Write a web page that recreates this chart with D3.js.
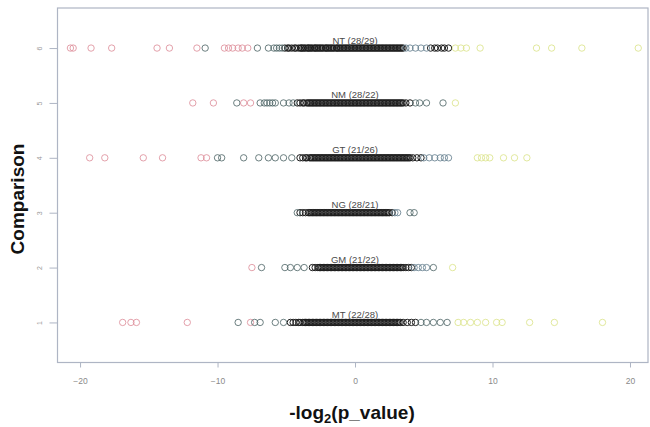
<!DOCTYPE html>
<html>
<head>
<meta charset="utf-8">
<script src="https://cdn.jsdelivr.net/npm/d3@7"></script>
<style>
  html, body { margin: 0; padding: 0; background: #fff; }
  svg { display: block; }
</style>
</head>
<body>
<svg id="chart" width="650" height="427"></svg>
<script>
// Comparisons, bottom (1) to top (6), with their row labels
const comparisons = ["MT", "GM", "NG", "GT", "NM", "NT"];
const rowLabels = ["MT (22/28)", "GM (21/22)", "NG (28/21)", "GT (21/26)", "NM (28/22)", "NT (28/29)"];
const xTicks = [-20, -10, 0, 10, 20];
const yTicks = [1, 2, 3, 4, 5, 6];

// -log2(p_value) per comparison; tone codes: r = strongly negative, s = outer, b = upper shoulder, y = strongly positive
const ntTails = [[-20.7,"r"],[-20.5,"r"],[-19.2,"r"],[-17.7,"r"],[-14.4,"r"],[-13.5,"r"],[-11.5,"r"],[-10.9,"s"],
  [-9.5,"r"],[-9.2,"r"],[-8.9,"r"],[-8.5,"r"],[-8.2,"r"],[-7.8,"r"],[-7.1,"s"],[-6.3,"s"],[-5.9,"s"],[-5.7,"s"],[-5.5,"s"],[-5.3,"s"],
  [3.7,"b"],[4.0,"b"],[4.4,"b"],[4.8,"b"],[5.2,"b"],
  [7.3,"y"],[7.7,"y"],[8.1,"y"],[9.1,"y"],[13.2,"y"],[14.3,"y"],[16.5,"y"],[20.6,"y"]];
const ntCore = [-5.1,-4.9,-4.8,-4.6,-4.4,-4.3,-4.1,-3.9,-3.8,-3.6,-3.4,-3.3,-3.1,-2.9,-2.8,-2.6,-2.5,-2.3,-2.1,-2.0,
  -1.8,-1.7,-1.5,-1.3,-1.2,-1.0,-0.9,-0.7,-0.6,-0.4,-0.2,-0.1,0.1,0.2,0.4,0.5,0.7,0.9,1.0,1.2,1.3,1.5,1.7,1.8,2.0,
  2.2,2.3,2.5,2.7,2.8,3.0,3.2,3.4,3.5,5.5,5.8,6.0,6.3,6.5,6.8,
  -3.95,-3.7,-3.45,-3.2,-2.95,-2.7,-2.4,-2.15,-1.9,-1.6,-1.35,-1.1,-0.8,-0.5,-0.3,0.0,0.3,0.6,0.8,1.1,1.4,1.6,
  1.9,2.1,2.4,2.6,2.9,3.1,3.3];

const nmTails = [[-11.8,"r"],[-10.3,"r"],[-8.6,"s"],[-8.1,"r"],[-7.6,"r"],[-6.9,"s"],[-6.6,"s"],[-6.4,"s"],[-6.2,"s"],
  [-6.0,"s"],[-5.8,"s"],[-5.2,"s"],[-4.8,"s"],[-4.5,"s"],[4.4,"s"],[4.7,"s"],[5.2,"s"],[6.4,"s"],[7.3,"y"]];
const nmCore = [-4.2,-4.0,-3.8,-3.7,-3.5,-3.3,-3.2,-3.0,-2.8,-2.7,-2.5,-2.3,-2.2,-2.0,-1.9,-1.7,-1.5,-1.4,-1.2,-1.1,
  -0.9,-0.7,-0.6,-0.4,-0.3,-0.1,0.1,0.2,0.4,0.5,0.7,0.9,1.0,1.2,1.3,1.5,1.7,1.8,2.0,2.2,2.3,2.5,2.7,2.9,3.1,3.3,3.5,3.7,4.0,
  -3.4,-3.1,-2.9,-2.6,-2.4,-2.1,-1.8,-1.6,-1.3,-1.0,-0.8,-0.5,-0.2,0.0,0.3,0.6,0.8,1.1,1.4,1.6,1.9,2.1,2.4,2.6,
  2.8,3.0,3.2,3.4];

const gtTails = [[-19.3,"r"],[-18.2,"r"],[-15.4,"r"],[-14.0,"r"],[-11.2,"r"],[-10.8,"r"],[-10.0,"s"],[-9.7,"s"],
  [-8.1,"s"],[-7.0,"s"],[-6.3,"s"],[-5.8,"s"],[-5.2,"s"],[-4.6,"s"],
  [5.0,"b"],[5.4,"b"],[5.8,"b"],[6.2,"b"],[6.5,"b"],[6.8,"b"],
  [8.9,"y"],[9.2,"y"],[9.5,"y"],[9.8,"y"],[10.8,"y"],[11.6,"y"],[12.5,"y"]];
const gtCore = [-4.0,-3.8,-3.6,-3.5,-3.3,-3.1,-3.0,-2.8,-2.6,-2.5,-2.3,-2.1,-2.0,-1.8,-1.7,-1.5,-1.3,-1.2,-1.0,-0.9,
  -0.7,-0.5,-0.4,-0.2,-0.1,0.1,0.3,0.4,0.6,0.7,0.9,1.1,1.2,1.4,1.5,1.7,1.9,2.0,2.2,2.4,2.5,2.7,2.9,3.0,3.2,3.4,3.6,
  3.8,4.0,4.2,4.5,4.8,
  -3.2,-2.9,-2.7,-2.4,-2.2,-1.9,-1.6,-1.4,-1.1,-0.8,-0.6,-0.3,0.0,0.2,0.5,0.8,1.0,1.3,1.6,1.8,2.1,2.3,2.6,2.8,
  3.1,3.3,3.5,3.7,3.9];

const ngTails = [[-4.2,"s"],[2.9,"b"],[3.1,"b"],[4.0,"s"],[4.3,"s"]];
const ngCore = [-4.0,-3.8,-3.6,-3.4,-3.3,-3.1,-2.9,-2.8,-2.6,-2.4,-2.3,-2.1,-1.9,-1.8,-1.6,-1.5,-1.3,-1.1,-1.0,-0.8,
  -0.7,-0.5,-0.3,-0.2,0.0,0.1,0.3,0.5,0.6,0.8,0.9,1.1,1.3,1.4,1.6,1.8,1.9,2.1,2.3,2.5,2.7,
  -3.2,-3.0,-2.7,-2.5,-2.2,-2.0,-1.7,-1.4,-1.2,-0.9,-0.6,-0.4,-0.1,0.2,0.4,0.7,1.0,1.2,1.5,1.7,2.0,2.2,2.4];

const gmTails = [[-7.5,"r"],[-6.8,"s"],[-5.1,"s"],[-4.7,"s"],[-4.2,"s"],[-3.7,"s"],
  [4.3,"b"],[4.6,"b"],[4.9,"b"],[5.2,"b"],[5.7,"s"],[7.1,"y"]];
const gmCore = [-3.1,-2.9,-2.7,-2.6,-2.4,-2.2,-2.1,-1.9,-1.8,-1.6,-1.4,-1.3,-1.1,-1.0,-0.8,-0.6,-0.5,-0.3,-0.2,0.0,
  0.2,0.3,0.5,0.6,0.8,1.0,1.1,1.3,1.4,1.6,1.8,1.9,2.1,2.3,2.4,2.6,2.8,2.9,3.1,3.3,3.5,3.7,3.9,4.1,
  -2.5,-2.3,-2.0,-1.7,-1.5,-1.2,-0.9,-0.7,-0.4,-0.1,0.1,0.4,0.7,0.9,1.2,1.5,1.7,2.0,2.2,2.5,2.7,3.0,3.2,3.4];

const mtTails = [[-16.9,"r"],[-16.3,"r"],[-15.9,"r"],[-12.2,"r"],[-8.5,"s"],[-7.6,"r"],[-7.3,"s"],[-6.9,"s"],
  [-5.8,"s"],[-5.2,"s"],[4.8,"s"],[5.2,"s"],[5.7,"s"],[6.2,"s"],[6.7,"s"],
  [7.5,"y"],[7.9,"y"],[8.4,"y"],[8.9,"y"],[9.5,"y"],[10.3,"y"],[10.7,"y"],[12.7,"y"],[14.5,"y"],[18.0,"y"]];
const mtCore = [-4.7,-4.5,-4.3,-4.1,-4.0,-3.8,-3.6,-3.5,-3.3,-3.1,-3.0,-2.8,-2.6,-2.5,-2.3,-2.2,-2.0,-1.8,-1.7,-1.5,
  -1.4,-1.2,-1.0,-0.9,-0.7,-0.6,-0.4,-0.2,-0.1,0.1,0.2,0.4,0.6,0.7,0.9,1.0,1.2,1.4,1.5,1.7,1.8,2.0,2.2,2.3,2.5,2.7,
  2.9,3.1,3.3,3.5,3.8,4.1,4.4,
  -3.7,-3.4,-3.2,-2.9,-2.7,-2.4,-2.1,-1.9,-1.6,-1.3,-1.1,-0.8,-0.5,-0.3,0.0,0.3,0.5,0.8,1.1,1.3,1.6,1.9,2.1,2.4,
  2.6,2.8,3.0,3.2];

const rowData = [
  [mtCore, mtTails], [gmCore, gmTails], [ngCore, ngTails],
  [gtCore, gtTails], [nmCore, nmTails], [ntCore, ntTails]
];

const toneColor = { k: "#1e1e1e", s: "#53696a", b: "#66808f", r: "#de909c", y: "#dce48c" };

const svg = d3.select("#chart");
const frameL = 57.5, frameR = 648, frameT = 8, frameB = 362.5;

const x = d3.scaleLinear().domain([-21.64, 21.31]).range([frameL, frameR]);
const y = d3.scaleLinear().domain([0.27, 6.73]).range([frameB, frameT]);

// plot frame
svg.append("rect")
  .attr("x", frameL).attr("y", frameT)
  .attr("width", frameR - frameL).attr("height", frameB - frameT)
  .attr("fill", "none").attr("stroke", "#aeb5c4").attr("stroke-width", 1.2);

// x axis
const xAxis = svg.append("g")
  .attr("transform", `translate(0,${frameB})`)
  .call(d3.axisBottom(x).tickValues(xTicks).tickSize(5).tickPadding(10).tickFormat(d3.format("d")));
xAxis.select(".domain").remove();
xAxis.selectAll("line").attr("stroke", "#aeb5c4");
xAxis.selectAll("text")
  .attr("fill", "#8a8a8a").attr("font-size", 8.5)
  .attr("font-family", "Liberation Sans, Arial, sans-serif");

// y axis with rotated labels
const yAxis = svg.append("g")
  .attr("transform", `translate(${frameL},0)`)
  .call(d3.axisLeft(y).tickValues(yTicks).tickSize(8).tickFormat(d3.format("d")));
yAxis.select(".domain").remove();
yAxis.selectAll("line").attr("stroke", "#aeb5c4");
yAxis.selectAll("text")
  .attr("x", null).attr("dy", null)
  .attr("transform", "translate(-15.5,0) rotate(-90)")
  .attr("text-anchor", "middle")
  .attr("fill", "#9a9a9a").attr("font-size", 7)
  .attr("font-family", "Liberation Sans, Arial, sans-serif");

// points
const plot = svg.append("g");
rowData.forEach(([core, tails], i) => {
  const row = yTicks[i];
  const pts = core.map(v => ({ v, t: "k" })).concat(tails.map(([v, t]) => ({ v, t })));
  plot.append("g").selectAll("circle")
    .data(pts)
    .join("circle")
    .attr("cx", d => x(d.v))
    .attr("cy", y(row))
    .attr("r", 3.2)
    .attr("fill", "none")
    .attr("stroke", d => toneColor[d.t])
    .attr("stroke-width", d => d.t === "k" ? 1.0 : 0.85);

  plot.append("text")
    .attr("x", x(0))
    .attr("y", y(row) - 4.5)
    .attr("text-anchor", "middle")
    .attr("font-family", "Liberation Sans, Arial, sans-serif")
    .attr("font-size", 9.5)
    .attr("fill", "#4a4a4a")
    .text(rowLabels[i]);
});

// axis titles
svg.append("text")
  .attr("transform", "translate(24,199) rotate(-90)")
  .attr("text-anchor", "middle")
  .attr("font-family", "Liberation Sans, Arial, sans-serif")
  .attr("font-weight", "bold")
  .attr("font-size", 19)
  .attr("fill", "#111")
  .text("Comparison");

const xt = svg.append("text")
  .attr("x", 352).attr("y", 419)
  .attr("text-anchor", "middle")
  .attr("font-family", "Liberation Sans, Arial, sans-serif")
  .attr("font-weight", "bold")
  .attr("font-size", 19)
  .attr("fill", "#111");
xt.append("tspan").text("-log");
xt.append("tspan").attr("dy", 4).attr("font-size", 13).text("2");
xt.append("tspan").attr("dy", -4).text("(p_value)");
</script>
</body>
</html>
